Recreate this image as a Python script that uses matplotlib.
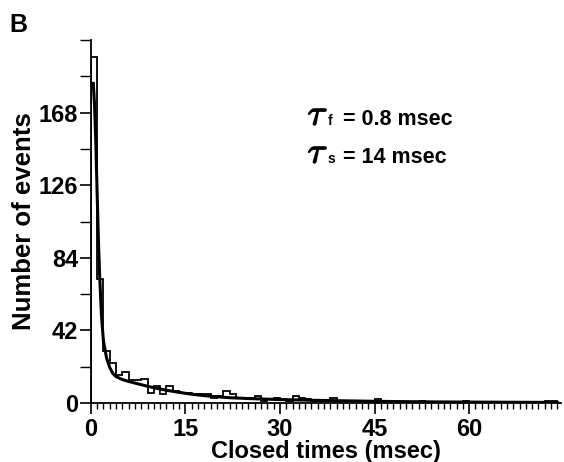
import numpy as np
import matplotlib
matplotlib.use('Agg')
import matplotlib.pyplot as plt
import matplotlib.patheffects as pe
from matplotlib.ticker import MultipleLocator

plt.rcParams['font.family'] = ['Liberation Sans', 'DejaVu Sans']
plt.rcParams['font.weight'] = 'bold'

# closed-time histogram, 1 ms bins starting at 0
counts = [200, 72, 30, 23, 16, 18, 13, 13, 14, 6,
          10, 5, 10, 7, 6, 6, 5, 5, 5, 3,
          4, 7, 5, 3, 3, 3, 4, 1, 2, 3,
          2, 1, 4, 3, 2, 1, 1, 1, 3, 1,
          1, 1, 1, 1, 1, 2, 1, 0, 0, 0,
          0, 0, 1, 0, 0, 0, 0, 0, 0, 1,
          0, 0, 0, 0, 0, 0, 0, 0, 0, 0,
          0, 0, 1, 1, 0]
bin_width = 1.0

# fitted two-exponential curve
fit_x = [0.4, 0.6, 0.8, 1.0, 1.2, 1.4, 1.7, 2.0, 2.5, 3.0, 3.5, 4.0, 5.0, 6.0,
         7.5, 9.0, 10.5, 12, 14, 16, 19, 22, 25, 30, 35, 40, 45, 50, 55, 60, 67, 74]
fit_y = [185, 172, 150, 122, 95, 74, 50, 36, 26, 20.5, 17, 15.2, 13.5, 12.4,
         11, 9.6, 8.4, 7.3, 6.1, 5.0, 3.8, 3.0, 2.5, 1.9, 1.5, 1.2, 0.9, 0.7,
         0.55, 0.45, 0.35, 0.25]

xticks = [0, 15, 30, 45, 60]
yticks = [0, 42, 84, 126, 168]

fig = plt.figure(figsize=(5.64, 4.62), dpi=100)
ax = fig.add_axes([0.161, 0.128, 0.834, 0.785])

edges = np.arange(len(counts) + 1) * bin_width
ax.stairs(counts, edges, color='black', lw=1.3)
ax.plot(fit_x, fit_y, color='black', lw=2.2)

ax.set_xlim(0, 74.6)
ax.set_ylim(0, 210)
ax.set_xticks(xticks)
ax.set_yticks(yticks)
ax.xaxis.set_minor_locator(MultipleLocator(1))
ax.yaxis.set_minor_locator(MultipleLocator(21))
ax.tick_params(axis='x', which='major', length=8, width=1.2, labelsize=17, pad=3)
ax.tick_params(axis='y', which='major', length=8, width=1.2, labelsize=17, pad=1)
ax.tick_params(axis='x', which='minor', length=4, width=1.0)
ax.tick_params(axis='y', which='minor', length=8, width=1.0)
for lab in ax.get_xticklabels() + ax.get_yticklabels():
    lab.set_fontweight('bold')

for s in ['top', 'right']:
    ax.spines[s].set_visible(False)
for s in ['left', 'bottom']:
    ax.spines[s].set_linewidth(1.3)

ax.set_xlabel('Closed times (msec)', fontsize=17, fontweight='bold', labelpad=-1)
ax.set_ylabel('Number of events', fontsize=18.5, fontweight='bold', labelpad=2)

# time constants
bold_stroke = [pe.withStroke(linewidth=1.0, foreground='black')]
ax.text(34.4, 161, r'$\tau$', fontsize=26, math_fontfamily='cm', va='baseline',
        path_effects=bold_stroke)
ax.text(37.6, 161, 'f', fontsize=10, fontweight='bold', va='baseline')
ax.text(40, 161, '= 0.8 msec', fontsize=15.5, fontweight='bold', va='baseline')
ax.text(34.4, 139, r'$\tau$', fontsize=26, math_fontfamily='cm', va='baseline',
        path_effects=bold_stroke)
ax.text(37.6, 139, 's', fontsize=10, fontweight='bold', va='baseline')
ax.text(40, 139, '= 14 msec', fontsize=15.5, fontweight='bold', va='baseline')

fig.text(0.016, 0.93, 'B', fontsize=18, fontweight='bold')

fig.savefig('out.png', dpi=100)
